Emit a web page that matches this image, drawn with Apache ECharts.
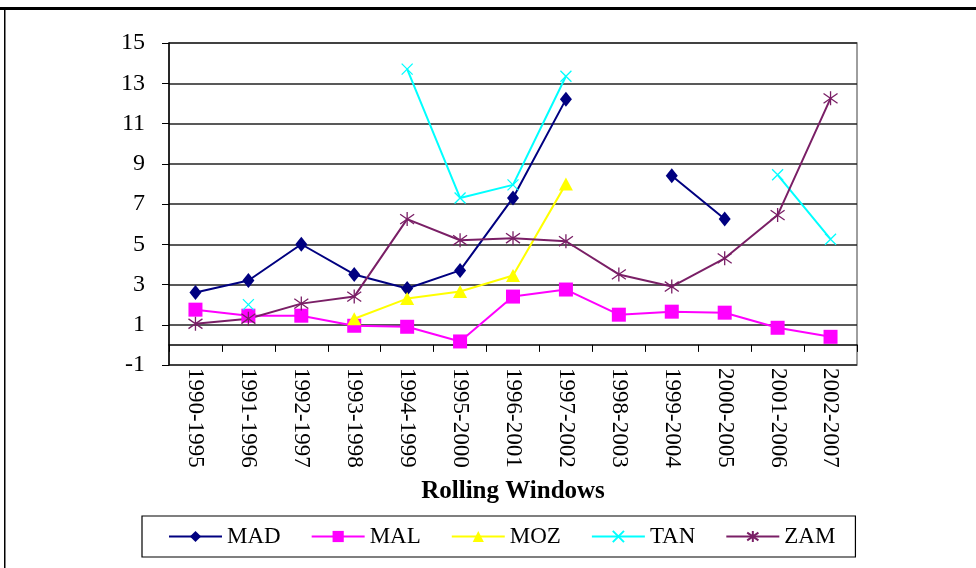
<!DOCTYPE html>
<html>
<head>
<meta charset="utf-8">
<script src="https://cdn.jsdelivr.net/npm/echarts@6/dist/echarts.min.js"></script>
<style>
  html, body { margin: 0; padding: 0; background: #ffffff; }
  #chart { width: 976px; height: 568px; }
</style>
</head>
<body>
<div id="chart"></div>
<script>
// Rolling five-year windows
const windows = ['1990-1995', '1991-1996', '1992-1997', '1993-1998', '1994-1999', '1995-2000',
  '1996-2001', '1997-2002', '1998-2003', '1999-2004', '2000-2005', '2001-2006', '2002-2007'];

// Country series (null = no estimate for that window)
const MAD = [2.6, 3.2, 5.0, 3.5, 2.8, 3.7, 7.3, 12.2, null, 8.4, 6.25, null, null];
const MAL = [1.75, 1.45, 1.45, 0.95, 0.9, 0.17, 2.4, 2.75, 1.5, 1.65, 1.6, 0.85, 0.4];
const MOZ = [null, null, null, 1.3, 2.3, 2.65, 3.45, 8.0, null, null, null, null, null];
const TAN = [null, 2.0, null, null, 13.7, 7.3, 7.95, 13.35, null, null, null, 8.45, 5.25];
const ZAM = [1.05, 1.3, 2.05, 2.4, 6.25, 5.2, 5.3, 5.15, 3.5, 2.9, 4.3, 6.45, 12.25];

const yTicks = { min: -1, max: 15, step: 2 };

const serif = '"Liberation Serif", "Times New Roman", serif';

const xMark = 'path://M0,0L10,10M10,0L0,10';
const starMark = 'path://M0,1.5L10,8.5M10,1.5L0,8.5M5,0L5,10';

function lineSeries(name, data, color, symbol, size, stroked) {
  return {
    name: name,
    type: 'line',
    data: data,
    symbol: symbol,
    symbolSize: size,
    showSymbol: true,
    showAllSymbol: true,
    connectNulls: false,
    lineStyle: { color: color, width: 2 },
    itemStyle: stroked
      ? { color: color, borderColor: color, borderWidth: 1.3 }
      : { color: color, borderWidth: 0 },
    emphasis: { disabled: true },
    z: 3
  };
}

const chart = echarts.init(document.getElementById('chart'), null, { renderer: 'canvas' });

chart.setOption({
  backgroundColor: '#ffffff',
  animation: false,
  textStyle: { fontFamily: serif },
  graphic: [
    { type: 'rect', shape: { x: 0, y: 7, width: 976, height: 3 }, style: { fill: '#000' }, silent: true },
    { type: 'rect', shape: { x: 4, y: 8, width: 1.5, height: 560 }, style: { fill: '#000' }, silent: true }
  ],
  grid: {
    left: 169, right: 119, top: 43, bottom: 203,
    show: true, borderColor: '#7f7f7f', borderWidth: 1.5, backgroundColor: 'transparent'
  },
  legend: {
    left: 142, top: 516,
    padding: [9, 20, 9, 26],
    borderColor: '#000', borderWidth: 1.2,
    itemWidth: 53, itemHeight: 14, itemGap: 30,
    textStyle: { fontFamily: serif, fontSize: 23, color: '#000', padding: [2, 0, 0, 0] },
    data: ['MAD', 'MAL', 'MOZ', 'TAN', 'ZAM']
  },
  xAxis: {
    type: 'category',
    data: windows,
    boundaryGap: true,
    axisLine: { onZero: true, lineStyle: { color: '#000', width: 1.5 } },
    axisTick: { show: true, length: 7, interval: 0, lineStyle: { color: '#000', width: 1 } },
    axisLabel: { interval: 0, rotate: -90, margin: 3, fontFamily: serif, fontSize: 23, color: '#000' },
    splitLine: { show: false },
    name: 'Rolling Windows',
    nameLocation: 'middle',
    nameGap: 114,
    nameTextStyle: { fontFamily: serif, fontSize: 25, fontWeight: 'bold', color: '#000' }
  },
  yAxis: {
    type: 'value',
    min: yTicks.min, max: yTicks.max, interval: yTicks.step,
    axisLine: { show: true, lineStyle: { color: '#000', width: 1.5 } },
    axisTick: { show: true, length: 7, lineStyle: { color: '#000', width: 1 } },
    axisLabel: { margin: 24, fontFamily: serif, fontSize: 24, color: '#000' },
    splitLine: { show: true, lineStyle: { color: '#222', width: 1.5 } }
  },
  series: [
    lineSeries('MAD', MAD, '#000080', 'diamond', [12, 15], false),
    lineSeries('MAL', MAL, '#ff00ff', 'rect', [14, 14], false),
    lineSeries('MOZ', MOZ, '#ffff00', 'triangle', [14, 13], false),
    lineSeries('TAN', TAN, '#00ffff', xMark, [11, 11], true),
    lineSeries('ZAM', ZAM, '#7a1f66', starMark, [14, 14], true)
  ]
});
</script>
</body>
</html>
